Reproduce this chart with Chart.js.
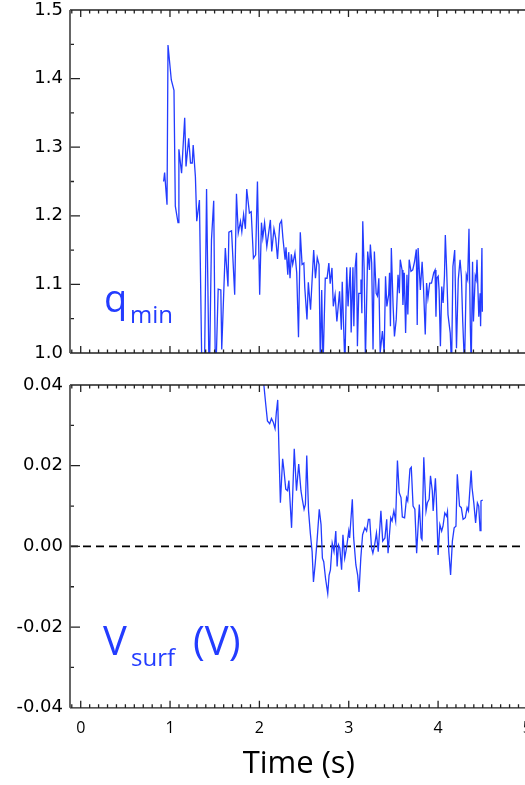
<!DOCTYPE html>
<html>
<head>
<meta charset="utf-8">
<script src="https://cdn.jsdelivr.net/npm/chart.js@4.4.1/dist/chart.umd.min.js"></script>
<style>
html, body { margin: 0; padding: 0; background: #fff; overflow: hidden; width: 525px; height: 785px; }
canvas { position: absolute; left: 0; }
#chartTop { top: 0; }
#chartBot { top: 370px; }
</style>
</head>
<body>
<canvas id="chartTop"></canvas>
<canvas id="chartBot"></canvas>
<script>
// q_min vs time (s)
var qTime = [0.929, 0.94, 0.967, 0.978, 1.015, 1.045, 1.06, 1.09, 1.10, 1.13, 1.165, 1.18, 1.21, 1.23, 1.25, 1.26, 1.285, 1.30, 1.33, 1.36, 1.38, 1.41, 1.44, 1.465, 1.49, 1.51, 1.54, 1.57, 1.58, 1.62, 1.65, 1.66, 1.69, 1.725, 1.745, 1.765, 1.79, 1.805, 1.825, 1.845, 1.86, 1.89, 1.91, 1.935, 1.96, 1.98, 2.005, 2.025, 2.04, 2.06, 2.085, 2.125, 2.14, 2.165, 2.185, 2.205, 2.23, 2.25, 2.265, 2.29, 2.30, 2.32, 2.33, 2.345, 2.36, 2.375, 2.40, 2.42, 2.44, 2.46, 2.48, 2.50, 2.51, 2.535, 2.55, 2.575, 2.61, 2.63, 2.65, 2.67, 2.685, 2.70, 2.715, 2.74, 2.76, 2.78, 2.795, 2.815, 2.83, 2.85, 2.87, 2.885, 2.90, 2.92, 2.93, 2.95, 2.96, 2.98, 2.995, 3.02, 3.03, 3.05, 3.06, 3.075, 3.09, 3.10, 3.115, 3.135, 3.14, 3.15, 3.16, 3.175, 3.19, 3.215, 3.235, 3.245, 3.26, 3.275, 3.29, 3.31, 3.325, 3.34, 3.355, 3.38, 3.40, 3.415, 3.43, 3.45, 3.46, 3.47, 3.48, 3.50, 3.515, 3.535, 3.555, 3.57, 3.58, 3.60, 3.61, 3.625, 3.64, 3.655, 3.665, 3.68, 3.70, 3.72, 3.74, 3.76, 3.77, 3.78, 3.805, 3.825, 3.84, 3.86, 3.875, 3.89, 3.91, 3.93, 3.955, 3.97, 3.98, 3.99, 4.005, 4.015, 4.03, 4.045, 4.06, 4.075, 4.085, 4.10, 4.115, 4.14, 4.155, 4.17, 4.19, 4.21, 4.23, 4.25, 4.265, 4.28, 4.30, 4.32, 4.335, 4.35, 4.365, 4.375, 4.39, 4.40, 4.42, 4.43, 4.44, 4.46, 4.475, 4.48, 4.495, 4.50];
var qMin = [1.25, 1.263, 1.216, 1.449, 1.398, 1.383, 1.214, 1.19, 1.297, 1.262, 1.343, 1.272, 1.313, 1.277, 1.277, 1.303, 1.257, 1.192, 1.223, 0.95, 0.90, 1.239, 0.95, 1.165, 1.222, 0.95, 1.093, 1.092, 1.005, 1.153, 1.097, 1.176, 1.178, 1.085, 1.232, 1.175, 1.192, 1.177, 1.202, 1.181, 1.239, 1.204, 1.206, 1.138, 1.143, 1.25, 1.085, 1.19, 1.168, 1.19, 1.155, 1.194, 1.148, 1.181, 1.167, 1.137, 1.188, 1.193, 1.168, 1.136, 1.154, 1.114, 1.147, 1.109, 1.144, 1.129, 1.146, 1.117, 1.023, 1.176, 1.129, 1.131, 1.096, 1.049, 1.103, 1.063, 1.15, 1.109, 1.139, 1.129, 0.98, 1.092, 0.98, 1.109, 1.109, 1.131, 1.101, 1.124, 1.068, 1.085, 1.046, 1.068, 1.09, 1.034, 1.104, 1.02, 0.98, 1.125, 1.068, 1.125, 1.03, 1.125, 1.039, 1.125, 1.146, 1.01, 1.087, 1.087, 1.107, 1.058, 1.192, 1.124, 0.99, 1.148, 1.121, 1.158, 1.131, 1.005, 1.148, 1.087, 1.083, 1.109, 1.0, 1.032, 1.0, 1.112, 1.068, 1.085, 1.117, 1.039, 1.153, 1.068, 1.024, 1.049, 1.114, 1.087, 1.136, 1.121, 1.07, 1.117, 1.029, 1.114, 1.056, 1.136, 1.119, 1.121, 1.133, 1.151, 1.041, 1.153, 1.092, 1.133, 1.097, 1.027, 1.102, 1.08, 1.102, 1.102, 1.117, 1.121, 1.053, 1.109, 1.112, 1.092, 1.01, 1.097, 1.073, 1.112, 1.172, 1.121, 1.056, 1.029, 0.98, 1.126, 1.15, 1.007, 1.107, 1.136, 1.112, 1.046, 0.98, 1.114, 1.107, 1.181, 1.039, 0.98, 1.133, 1.046, 1.112, 1.107, 1.136, 1.053, 1.087, 1.039, 1.153, 1.06];

// V_surf (V) vs time (s)
var vTime = [2.0, 2.05, 2.07, 2.09, 2.115, 2.135, 2.155, 2.175, 2.19, 2.205, 2.22, 2.235, 2.26, 2.275, 2.295, 2.315, 2.33, 2.36, 2.39, 2.415, 2.44, 2.465, 2.48, 2.50, 2.515, 2.53, 2.55, 2.57, 2.59, 2.605, 2.625, 2.645, 2.67, 2.69, 2.705, 2.72, 2.74, 2.765, 2.78, 2.795, 2.815, 2.835, 2.855, 2.87, 2.885, 2.90, 2.92, 2.935, 2.955, 2.975, 3.0, 3.01, 3.04, 3.055, 3.08, 3.10, 3.115, 3.135, 3.155, 3.18, 3.20, 3.22, 3.235, 3.255, 3.27, 3.29, 3.31, 3.33, 3.36, 3.38, 3.405, 3.425, 3.44, 3.47, 3.485, 3.505, 3.525, 3.545, 3.565, 3.585, 3.60, 3.625, 3.647, 3.66, 3.685, 3.70, 3.72, 3.74, 3.76, 3.79, 3.81, 3.82, 3.84, 3.865, 3.88, 3.90, 3.915, 3.935, 3.945, 3.97, 3.98, 4.00, 4.02, 4.04, 4.055, 4.075, 4.095, 4.105, 4.12, 4.14, 4.16, 4.18, 4.20, 4.215, 4.24, 4.26, 4.28, 4.305, 4.325, 4.34, 4.37, 4.38, 4.40, 4.42, 4.44, 4.455, 4.47, 4.48, 4.50];
var vSurf = [0.052, 0.040, 0.0354, 0.0311, 0.0304, 0.0317, 0.0308, 0.0292, 0.0333, 0.0363, 0.0229, 0.0108, 0.0217, 0.0188, 0.0142, 0.0138, 0.0163, 0.0046, 0.0242, 0.0138, 0.0204, 0.0138, 0.0117, 0.0092, 0.0104, 0.0225, 0.0088, 0.0033, -0.0013, -0.0088, -0.0042, 0.0013, 0.0092, 0.0054, -0.0029, -0.0038, -0.0079, -0.0117, -0.0071, -0.0058, 0.0008, -0.0013, 0.0038, -0.005, 0.0004, -0.0004, -0.0058, 0.0029, -0.0029, -0.0004, 0.0038, 0.0021, 0.0117, 0.0021, -0.0046, -0.0071, -0.0113, -0.0029, 0.0029, 0.0046, 0.0038, 0.0067, 0.0067, -0.0004, -0.0017, 0.0004, 0.0033, -0.0013, 0.0088, 0.0013, 0.0021, 0.0067, -0.0017, 0.0071, 0.0063, 0.0088, 0.0063, 0.0213, 0.0133, 0.0121, 0.0073, 0.0071, 0.0121, 0.0113, 0.0192, 0.0196, 0.01, 0.0092, -0.0017, 0.0104, 0.0021, 0.0017, 0.0221, 0.0088, 0.0108, 0.0117, 0.0175, 0.0138, 0.0088, 0.0169, 0.0121, -0.0021, 0.0054, 0.0038, 0.005, 0.0083, 0.0075, 0.0086, -0.0013, -0.0071, 0.0013, 0.0046, 0.005, 0.0179, 0.01, 0.0096, 0.0067, 0.0071, 0.0096, 0.0088, 0.0188, 0.0146, 0.0108, 0.0058, 0.0108, 0.01, 0.0039, 0.0113, 0.0115];

// axes
var xRange = [-0.12, 5];
var xTicks = [0, 1, 2, 3, 4, 5];
var qTicks = [1.0, 1.1, 1.2, 1.3, 1.4, 1.5];
var vTicks = [-0.04, -0.02, 0.00, 0.02, 0.04];
var zeroLine = [0, 0];

var blue = 'rgb(35,60,255)';
var tickFont = { family: 'DejaVu Sans', size: 18, lineHeight: 0.3 };

// box with inward ticks on all four sides (IDL style)
var framePlugin = {
    id: 'frame',
    afterDatasetsDraw: function (chart, args, opts) {
        var a = chart.chartArea, ctx = chart.ctx;
        var xs = chart.scales.x, ys = chart.scales.y;
        ctx.save();
        ctx.lineWidth = 1.3;
        ctx.strokeStyle = '#222';
        ctx.beginPath();
        ctx.moveTo(a.left, a.top); ctx.lineTo(a.right, a.top);
        ctx.moveTo(a.left, a.bottom); ctx.lineTo(a.right, a.bottom);
        ctx.moveTo(a.right, a.top); ctx.lineTo(a.right, a.bottom);
        for (var i = Math.ceil(xs.min * 10); i <= Math.floor(xs.max * 10); i++) {
            var px = xs.getPixelForValue(i / 10);
            var len = i % 10 === 0 ? 7 : 3.5;
            ctx.moveTo(px, a.bottom); ctx.lineTo(px, a.bottom - len);
            ctx.moveTo(px, a.top); ctx.lineTo(px, a.top + len);
        }
        var n = Math.round((ys.max - ys.min) / opts.minor);
        for (var j = 0; j <= n; j++) {
            var py = ys.getPixelForValue(ys.min + j * opts.minor);
            var l = j % opts.per === 0 ? 10 : 4;
            ctx.moveTo(a.left, py); ctx.lineTo(a.left + l, py);
        }
        ctx.stroke();
        ctx.strokeStyle = '#555';
        ctx.lineWidth = 1.8;
        ctx.beginPath();
        ctx.moveTo(a.left, a.top); ctx.lineTo(a.left, a.bottom);
        ctx.stroke();
        ctx.restore();
    }
};

var labelPlugin = {
    id: 'bigLabel',
    afterDraw: function (chart, args, opts) {
        var ctx = chart.ctx;
        ctx.save();
        ctx.fillStyle = blue;
        ctx.textBaseline = 'alphabetic';
        opts.parts.forEach(function (p) {
            ctx.font = p.size + 'px "Open Sans"';
            ctx.fillText(p.text, p.x, p.y);
        });
        ctx.restore();
    }
};

function yAxis(ticks, digits, min, max) {
    return {
        min: min,
        max: max,
        afterFit: function (scale) { scale.width = 70; },
        afterBuildTicks: function (scale) {
            scale.ticks = ticks.map(function (v) { return { value: v }; });
        },
        grid: { display: false, drawTicks: false },
        border: { display: false },
        ticks: {
            padding: 7,
            color: '#000',
            font: tickFont,
            callback: function (v) { return Number(v).toFixed(digits); }
        }
    };
}

function xAxis(show) {
    return {
        type: 'linear',
        display: show,
        min: xRange[0],
        max: xRange[1],
        afterBuildTicks: function (scale) {
            scale.ticks = xTicks.map(function (v) { return { value: v }; });
        },
        grid: { display: false, drawTicks: false },
        border: { display: false },
        ticks: {
            padding: 11,
            maxRotation: 0,
            color: '#000',
            font: { family: 'Open Sans', size: 16 },
            callback: function (v) { return String(v); }
        },
        title: {
            display: show,
            text: 'Time (s)',
            color: '#000',
            font: { family: 'Open Sans', size: 31, lineHeight: 1 },
            padding: { top: 0, bottom: 5 }
        }
    };
}

function points(xs, ys) {
    return xs.map(function (x, i) { return { x: x, y: ys[i] }; });
}

var topCanvas = document.getElementById('chartTop');
topCanvas.width = 543; topCanvas.height = 370;
new Chart(topCanvas, {
    type: 'line',
    data: {
        datasets: [{
            data: points(qTime, qMin),
            borderColor: blue,
            borderWidth: 1.3,
            pointRadius: 0,
            tension: 0
        }]
    },
    options: {
        responsive: false,
        animation: false,
        layout: { padding: { left: 0, top: 10, right: 16, bottom: 17 } },
        scales: { x: xAxis(false), y: yAxis(qTicks, 1, 1.0, 1.5) },
        plugins: {
            legend: { display: false },
            tooltip: { enabled: false },
            frame: { minor: 0.05, per: 2 },
            bigLabel: { parts: [
                { text: 'q', size: 38, x: 104, y: 312 },
                { text: 'min', size: 24, x: 130, y: 323 }
            ] }
        }
    },
    plugins: [framePlugin, labelPlugin]
});

var botCanvas = document.getElementById('chartBot');
botCanvas.width = 543; botCanvas.height = 415;
new Chart(botCanvas, {
    type: 'line',
    data: {
        datasets: [{
            data: points(vTime, vSurf),
            borderColor: blue,
            borderWidth: 1.3,
            pointRadius: 0,
            tension: 0
        }, {
            data: points(xRange, zeroLine),
            borderColor: '#000',
            borderWidth: 1.8,
            borderDash: [8, 5],
            pointRadius: 0
        }]
    },
    options: {
        responsive: false,
        animation: false,
        layout: { padding: { left: 0, top: 15, right: 0, bottom: 0 } },
        scales: { x: xAxis(true), y: yAxis(vTicks, 2, -0.04, 0.04) },
        plugins: {
            legend: { display: false },
            tooltip: { enabled: false },
            frame: { minor: 0.01, per: 2 },
            bigLabel: { parts: [
                { text: 'V', size: 40, x: 103, y: 285 },
                { text: 'surf', size: 24, x: 131, y: 296 },
                { text: '(V)', size: 40, x: 193, y: 285 }
            ] }
        }
    },
    plugins: [framePlugin, labelPlugin]
});
</script>
</body>
</html>
